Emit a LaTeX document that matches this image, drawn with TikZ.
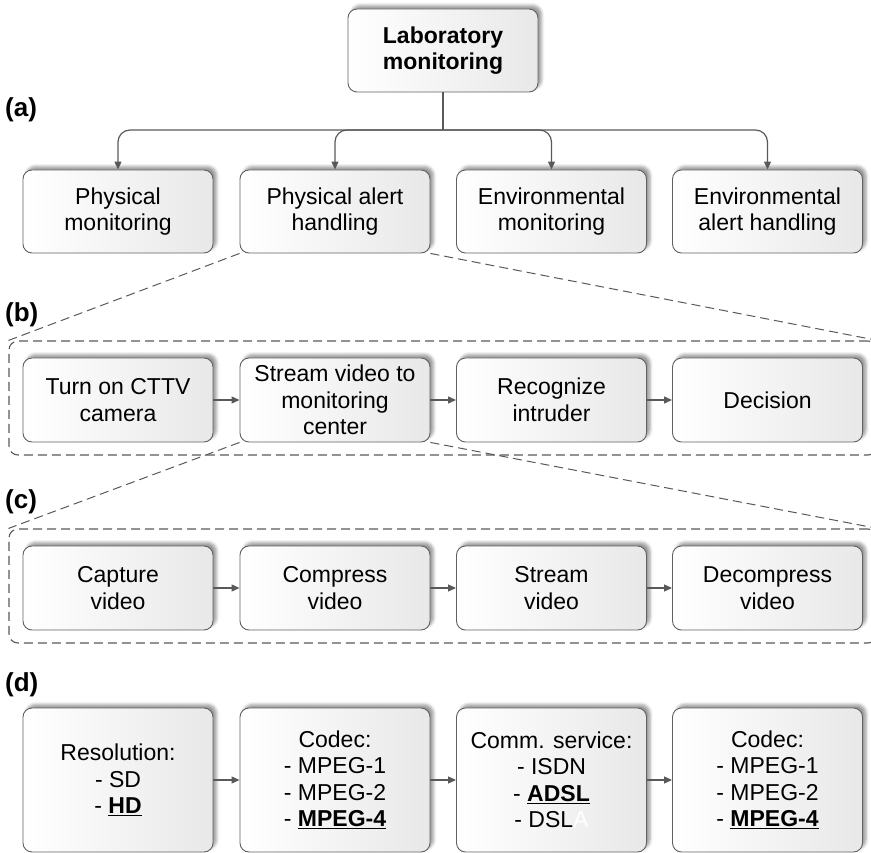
\documentclass[tikz,border=0pt]{standalone}
\usepackage{fontspec}
\setmainfont{Liberation Sans}
\usetikzlibrary{arrows.meta,shadows.blur}

\newcommand\bxfont{\fontsize{23}{26.5}\selectfont}
\newcommand\tgfont{\fontsize{26}{28}\selectfont\bfseries}
\newcommand\pick[1]{\underline{\textbf{#1}}}

\tikzset{
  box/.style={draw=black!62, line width=0.9pt, rounded corners=9pt,
    left color=white, right color=black!9,
    minimum width=190pt, minimum height=83pt, align=center, inner sep=2pt,
    font=\bxfont,
    blur shadow={shadow xshift=3.5pt, shadow yshift=3.5pt,
      shadow blur radius=3pt, shadow opacity=40}},
  tallbox/.style={box, minimum height=144pt},
  link/.style={draw=black!65, line width=1.2pt,
    -{Triangle[length=8pt,width=7pt]}},
  stem/.style={draw=black!65, line width=1.2pt},
  zoomline/.style={draw=black!65, line width=1pt, dash pattern=on 9pt off 5pt},
  group/.style={draw=black!65, line width=1.1pt, dash pattern=on 9pt off 5pt,
    rounded corners=9pt, minimum width=868pt, minimum height=114pt,
    inner sep=0pt},
  tag/.style={font=\tgfont, anchor=west, inner sep=0pt}
}

\begin{document}
\begin{tikzpicture}[x=1pt,y=-1pt]
  \useasboundingbox (0,0) rectangle (871,853);
  \clip (0,0) rectangle (871,853);

  % dashed frames around the expanded steps
  \node[group] (gb) at (443,398) {};
  \node[group] (gc) at (443,586) {};

  % panel tags
  \node[tag] (ta) at (5,110) {(a)};
  \node[tag] (tb) at (5,314.5) {(b)};
  \node[tag] (tc) at (5,502) {(c)};
  \node[tag] (td) at (5,685) {(d)};

  % top task
  \node[box] (top) at (443,50.5) {\textbf{Laboratory}\\\textbf{monitoring}};

  % (a) sub-tasks
  \node[box] (a1) at (118,211.5)   {Physical\\monitoring};
  \node[box] (a2) at (335,211.5)   {Physical alert\\handling};
  \node[box] (a3) at (551.5,211.5) {Environmental\\monitoring};
  \node[box] (a4) at (767.5,211.5) {Environmental\\alert handling};

  % (b) alert handling steps
  \node[box, minimum height=84pt] (b1) at (118,400)   {Turn on CTTV\\camera};
  \node[box, minimum height=84pt] (b2) at (335,400)   {Stream video to\\monitoring\\center};
  \node[box, minimum height=84pt] (b3) at (551.5,400) {Recognize\\intruder};
  \node[box, minimum height=84pt] (b4) at (767.5,400) {Decision};

  % (c) streaming steps
  \node[box, minimum height=84pt] (c1) at (118,588)   {Capture\\video};
  \node[box, minimum height=84pt] (c2) at (335,588)   {Compress\\video};
  \node[box, minimum height=84pt] (c3) at (551.5,588) {Stream\\video};
  \node[box, minimum height=84pt] (c4) at (767.5,588) {Decompress\\video};

  % (d) options per step
  \node[tallbox] (d1) at (118,780)   {Resolution:\\- SD\\- \pick{HD}};
  \node[tallbox] (d2) at (335,780)   {Codec:\\- MPEG-1\\- MPEG-2\\- \pick{MPEG-4}};
  \node[tallbox] (d3) at (551.5,780) {Comm. service:\\- ISDN\\- \pick{ADSL}\\- DSL\textcolor{white}{A}};
  \node[tallbox] (d4) at (767.5,780) {Codec:\\- MPEG-1\\- MPEG-2\\- \pick{MPEG-4}};

  % tree connectors
  \coordinate (bus) at (443,130);
  \draw[stem] (top.south) -- (bus);
  \foreach \c in {a1,a2,a3,a4}
    \draw[link, rounded corners=12pt] (bus) -| (\c.north);

  % zoom-in lines
  \draw[zoomline] (a2.south west) -- (gb.north west);
  \draw[zoomline] (a2.south east) -- (gb.north east);
  \draw[zoomline] (b2.south west) -- (gc.north west);
  \draw[zoomline] (b2.south east) -- (gc.north east);

  % sequence arrows
  \foreach \r in {b,c,d} {
    \draw[link] (\r1.east) -- (\r2.west);
    \draw[link] (\r2.east) -- (\r3.west);
    \draw[link] (\r3.east) -- (\r4.west);
  }
\end{tikzpicture}
\end{document}
